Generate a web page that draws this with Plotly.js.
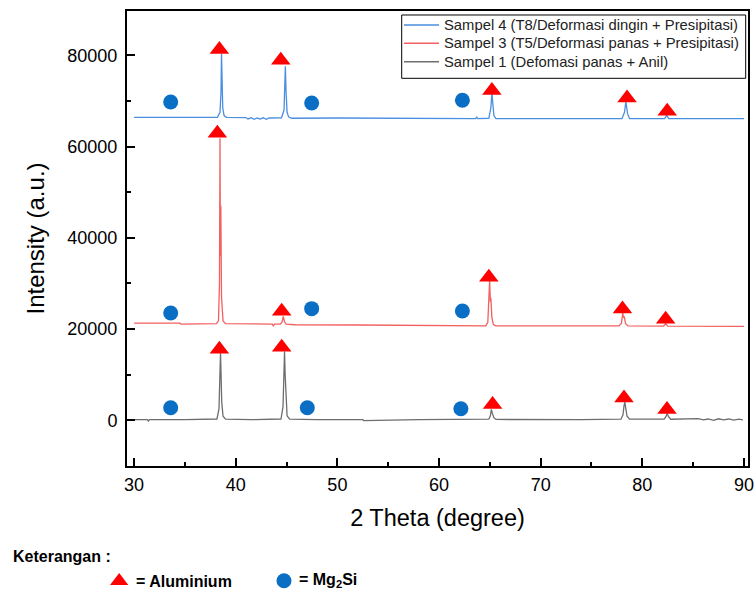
<!DOCTYPE html>
<html>
<head>
<meta charset="utf-8">
<script src="https://cdn.plot.ly/plotly-3.0.1.min.js"></script>
<style>
html, body { margin: 0; padding: 0; background: #ffffff; }
#chart { width: 755px; height: 589px; }
</style>
</head>
<body>
<div id="chart"></div>
<script>
// ---- Data ----
const seriesNames = [
  "Sampel 4 (T8/Deformasi dingin + Presipitasi)",
  "Sampel 3 (T5/Deformasi panas + Presipitasi)",
  "Sampel 1 (Defomasi panas + Anil)"
];

// Sampel 4 (blue)
const s4X = [30.0, 38.2, 38.45, 38.55, 38.6, 38.65, 38.72, 38.85, 39.1, 41.0, 41.2, 41.5, 41.8, 42.1, 42.4, 42.7, 43.0, 43.3, 44.5, 44.75, 44.82, 44.88, 44.95, 45.05, 45.2, 45.5, 50.0, 56.0, 63.6, 63.7, 63.8, 64.9, 65.1, 65.2, 65.28, 65.4, 65.6, 72.0, 78.0, 78.25, 78.38, 78.45, 78.55, 78.75, 82.2, 82.4, 82.6, 90.0];
const s4Y = [66400, 66400, 67500, 72000, 80300, 72000, 68500, 66800, 66400, 66350, 66050, 66300, 65950, 66250, 66000, 66300, 65950, 66250, 66300, 68000, 72000, 77600, 72000, 67500, 66500, 66200, 66250, 66200, 66100, 66500, 66100, 66200, 68500, 71700, 69000, 66800, 66100, 66100, 66100, 67500, 69800, 68800, 67200, 66100, 66100, 66800, 66100, 66100];

// Sampel 3 (red)
const s3X = [30.0, 34.5, 34.6, 38.1, 38.3, 38.4, 38.45, 38.49, 38.53, 38.6, 38.75, 39.0, 43.6, 43.7, 43.8, 44.4, 44.55, 44.68, 44.8, 44.95, 45.7, 45.8, 52.0, 60.0, 64.6, 64.8, 64.92, 64.98, 65.05, 65.1, 65.2, 65.35, 65.6, 72.0, 77.7, 77.95, 78.08, 78.15, 78.22, 78.35, 78.6, 82.1, 82.3, 82.5, 90.0];
const s3Y = [21300, 21300, 21100, 21200, 21800, 30000, 61800, 36000, 47000, 27000, 21800, 21200, 21100, 20600, 21100, 21100, 21500, 22800, 21600, 21100, 21100, 20950, 20900, 20800, 20700, 21500, 26000, 30700, 26000, 26800, 22500, 21000, 20700, 20700, 20700, 21300, 23500, 22500, 22800, 21200, 20700, 20650, 21200, 20650, 20600];

// Sampel 1 (grey)
const s1X = [30.0, 31.3, 31.4, 31.5, 35.0, 38.15, 38.35, 38.45, 38.5, 38.55, 38.62, 38.75, 39.0, 41.5, 44.45, 44.65, 44.74, 44.8, 44.86, 44.95, 45.05, 45.3, 48.0, 52.5, 52.6, 58.0, 64.9, 65.05, 65.15, 65.25, 65.4, 65.6, 69.0, 74.0, 77.9, 78.1, 78.2, 78.28, 78.38, 78.5, 78.75, 82.15, 82.32, 82.45, 82.58, 82.8, 85.5, 86.0, 86.5, 87.0, 87.5, 88.0, 88.5, 89.0, 89.5, 89.9];
const s1Y = [150, 150, -150, 150, 150, 300, 2500, 11000, 14700, 10500, 4000, 900, 250, 150, 300, 3000, 12000, 15100, 10000, 3500, 1000, 250, 150, 150, -50, 150, 250, 1000, 2400, 1500, 600, 200, 150, 150, 250, 1200, 3200, 4000, 2500, 900, 250, 250, 800, 1500, 800, 250, 400, 100, 300, 0, 350, 100, 300, 50, 250, 100];

// Peak markers: Aluminium (triangles) and Mg2Si (circles)
const alX = [38.39, 44.52, 65.27, 78.2, 82.43, 38.19, 44.52, 64.9, 78.05, 82.3, 38.39, 44.43, 65.2, 78.5, 82.45];
const alY = [15560, 16000, 3500, 4890, 2400, 62900, 23900, 31340, 24400, 22140, 81250, 78900, 72260, 70640, 67730];
const mgX = [33.6, 47.04, 62.15, 33.6, 47.47, 62.3, 33.6, 47.47, 62.3];
const mgY = [2780, 2780, 2560, 23520, 24480, 23960, 69770, 69550, 70140];

const xTicks = [30, 40, 50, 60, 70, 80, 90];
const yTicks = [0, 20000, 40000, 60000, 80000];

// ---- Styling ----
const FONT = "Liberation Sans, Arial, sans-serif";
const lineColors = ["#4a8fe0", "#f2605f", "#6e6e6e"];

const traces = [
  { x: s4X, y: s4Y, name: seriesNames[0], type: "scatter", mode: "lines",
    line: { color: lineColors[0], width: 1.3 } },
  { x: s3X, y: s3Y, name: seriesNames[1], type: "scatter", mode: "lines",
    line: { color: lineColors[1], width: 1.3 } },
  { x: s1X, y: s1Y, name: seriesNames[2], type: "scatter", mode: "lines",
    line: { color: lineColors[2], width: 1.3 } },
  { x: alX, y: alY, name: "Aluminium", type: "scatter", mode: "markers",
    marker: { symbol: "triangle-up", size: 17, color: "#ff0000", line: { width: 0 } } },
  { x: mgX, y: mgY, name: "Mg2Si", type: "scatter", mode: "markers",
    marker: { symbol: "circle", size: 15, color: "#0a6fc4", line: { width: 0 } } }
];

const axisCommon = {
  showgrid: false, zeroline: false, showline: true, mirror: true,
  linecolor: "#000000", linewidth: 2,
  ticks: "inside", ticklen: 8, tickwidth: 2, tickcolor: "#000000",
  tickfont: { family: FONT, size: 18, color: "#000000" },
  automargin: false
};

// Legend box (drawn as a boxed key in the upper right of the plot area)
const legBox = { x0: 0.44235, x1: 0.99630, y0: 0.85209, y1: 0.99121 };
const legRowY = [0.96923, 0.92901, 0.88857];
const legLineX = [0.44605, 0.50242];
const legTextX = 0.50725;

const legendShapes = [
  { type: "rect", xref: "paper", yref: "paper", layer: "above",
    x0: legBox.x0, x1: legBox.x1, y0: legBox.y0, y1: legBox.y1,
    fillcolor: "#ffffff", line: { color: "#000000", width: 1 } }
];
const legendAnns = [];
seriesNames.forEach(function (nm, i) {
  legendShapes.push({ type: "line", xref: "paper", yref: "paper", layer: "above",
    x0: legLineX[0], x1: legLineX[1], y0: legRowY[i], y1: legRowY[i],
    line: { color: lineColors[i], width: 1.5 } });
  legendAnns.push({ xref: "paper", yref: "paper", x: legTextX, y: legRowY[i],
    xanchor: "left", yanchor: "middle", showarrow: false, text: nm,
    font: { family: FONT, size: 14.8, color: "#222222" } });
});

const layout = {
  width: 755, height: 589,
  paper_bgcolor: "#ffffff", plot_bgcolor: "#ffffff",
  margin: { l: 127, r: 7, t: 11, b: 123, pad: 0 },
  font: { family: FONT, color: "#000000" },
  showlegend: false,
  xaxis: Object.assign({}, axisCommon, {
    range: [29.3, 90.4],
    tickvals: xTicks, ticktext: xTicks.map(String),
    ticklabelstandoff: 1,
    minor: { dtick: 5, tick0: 0, ticks: "inside", ticklen: 4, tickwidth: 2, tickcolor: "#000000" },
    title: { text: "2 Theta (degree)", font: { family: FONT, size: 23.5, color: "#000000" }, standoff: 16 }
  }),
  yaxis: Object.assign({}, axisCommon, {
    range: [-10000, 89700],
    tickvals: yTicks, ticktext: yTicks.map(String),
    ticklabelstandoff: 4,
    minor: { dtick: 10000, tick0: 0, ticks: "inside", ticklen: 4, tickwidth: 2, tickcolor: "#000000" },
    title: { text: "Intensity (a.u.)", font: { family: FONT, size: 24, color: "#000000" }, standoff: 16 }
  }),
  annotations: legendAnns.concat([
    { xref: "paper", yref: "paper", x: -0.1868, y: -0.1993, xanchor: "left", yanchor: "middle",
      text: "<b>Keterangan :</b>", showarrow: false, font: { family: FONT, size: 16, color: "#000000" } },
    { xref: "paper", yref: "paper", x: 0.0113, y: -0.2543, xanchor: "left", yanchor: "middle",
      text: "<b>= Aluminium</b>", showarrow: false, font: { family: FONT, size: 16, color: "#000000" } },
    { xref: "paper", yref: "paper", x: 0.2738, y: -0.2527, xanchor: "left", yanchor: "middle",
      text: "<b>= Mg<sub>2</sub>Si</b>", showarrow: false, font: { family: FONT, size: 16, color: "#000000" } }
  ]),
  shapes: legendShapes.concat([
    { type: "path", xref: "paper", yref: "paper",
      path: "M -0.02738 -0.26154 L 0.00209 -0.26154 L -0.01256 -0.23516 Z",
      fillcolor: "#ff0000", line: { width: 0 } },
    { type: "circle", xref: "paper", yref: "paper",
      x0: 0.2407, x1: 0.2649, y0: -0.2686, y1: -0.2356,
      fillcolor: "#0a6fc4", line: { width: 0 } }
  ])
};

Plotly.newPlot("chart", traces, layout, { displayModeBar: false, staticPlot: true });
</script>
</body>
</html>
